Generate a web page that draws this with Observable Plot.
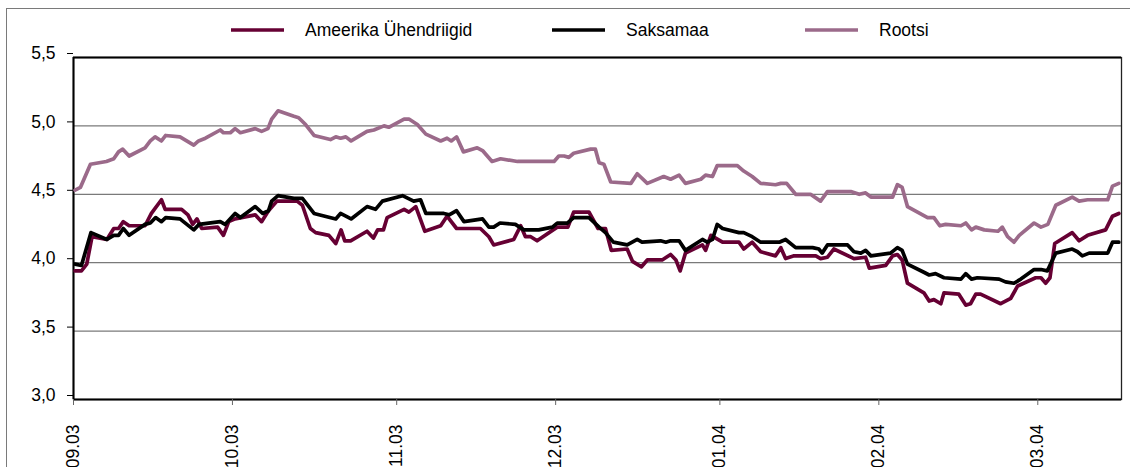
<!DOCTYPE html>
<html><head><meta charset="utf-8">
<script src="https://cdn.jsdelivr.net/npm/d3@7"></script>
<script src="https://cdn.jsdelivr.net/npm/@observablehq/plot@0.6"></script>
<style>
html,body{margin:0;padding:0;background:#fff;}
#wrap{position:relative;width:1130px;height:467px;overflow:hidden;font-family:"Liberation Sans",Arial,sans-serif;}
#border{position:absolute;left:6px;top:8px;width:1300px;height:700px;border:1px solid #7a7a7a;}
#legend{position:relative;height:45px;}
.item{position:absolute;top:8px;height:44px;display:flex;align-items:center;font-size:17.5px;color:#000;white-space:nowrap;}
.item svg{margin-right:21px;display:block}
#chart{position:relative;}
#chart svg{display:block}
</style></head><body>
<div id="wrap"><div id="border"></div><div id="legend"></div><div id="chart"></div></div>
<script>
// x values: days since 1 Sep 2003
const seriesNames = ["Ameerika Ühendriigid", "Saksamaa", "Rootsi"];
const seriesColors = ["#660033", "#000000", "#9b6a8a"];

const usDays = [0.3,1.5,2.5,3.5,6.3,7.6,8.5,9.4,10.5,13.5,14.7,16.6,17.3,20.4,21.6,22.5,23.3,24.2,27.2,28.3,29.3,30.5,34.3,35.5,36.8,38.4,42.2,43.2,44.7,45.7,48.2,49.5,50.5,51.2,52.3,55.4,56.6,57.4,58.5,59.2,62.4,63.3,64.6,66.3,69.3,70.5,72.3,76.8,78.4,79.3,83.1,84.4,85.3,86.3,87.5,91.3,93.3,94.4,97.3,99.0,100.4,101.5,104.5,105.5,107.2,108.3,111.1,112.7,113.7,114.5,115.5,118.7,119.3,120.3,121.2,122.5,125.6,126.5,128.1,129.7,132.5,133.5,134.4,136.0,140.1,141.0,142.3,143.5,147.3,149.5,150.2,153.3,154.6,155.5,156.4,157.4,160.5,161.5,162.4,163.7,164.3,167.1,168.4,169.3,170.3,171.2,175.0,176.9,178.2,181.6,182.6,183.5,184.3,185.2,188.5,189.8,191.4,194.8,196.1,197.3];
const usValues = [3.94,3.94,3.99,4.19,4.17,4.25,4.25,4.30,4.27,4.27,4.36,4.46,4.39,4.39,4.35,4.28,4.32,4.25,4.26,4.20,4.30,4.32,4.35,4.30,4.38,4.45,4.45,4.42,4.25,4.22,4.20,4.14,4.24,4.16,4.16,4.23,4.18,4.24,4.24,4.33,4.39,4.37,4.41,4.23,4.27,4.34,4.25,4.25,4.19,4.13,4.17,4.27,4.19,4.19,4.16,4.26,4.26,4.37,4.37,4.25,4.25,4.09,4.10,4.01,3.97,4.02,4.02,4.06,4.02,3.94,4.07,4.13,4.09,4.20,4.18,4.15,4.15,4.10,4.15,4.08,4.05,4.11,4.03,4.05,4.05,4.03,4.04,4.10,4.03,4.04,3.96,3.98,4.05,4.06,4.02,3.85,3.78,3.72,3.73,3.70,3.78,3.77,3.69,3.70,3.77,3.77,3.70,3.74,3.83,3.89,3.89,3.85,3.89,4.14,4.22,4.16,4.20,4.24,4.34,4.36];

const deDays = [0.3,1.5,3.3,6.3,7.6,8.5,9.4,10.5,13.5,14.5,15.5,16.6,17.4,20.1,21.4,22.7,23.7,27.7,28.6,30.5,31.5,34.3,35.7,36.8,37.4,38.6,41.6,43.2,45.4,49.5,50.4,52.4,55.4,57.0,58.3,62.1,64.2,65.5,66.5,69.9,70.9,72.3,73.7,77.2,78.4,79.3,80.5,83.4,85.0,87.8,90.4,91.3,93.2,94.4,97.3,99.2,100.4,101.9,104.5,106.4,107.3,110.8,111.8,112.7,114.3,115.5,118.7,119.6,120.6,121.5,122.5,125.6,126.5,128.1,129.7,133.2,134.4,136.3,139.5,140.7,141.3,142.3,146.1,147.3,148.6,149.5,150.5,154.2,155.5,156.4,157.4,160.5,161.5,162.7,164.3,167.5,168.4,169.5,170.6,174.7,175.9,177.5,178.8,181.3,182.6,183.8,184.4,185.4,188.5,189.5,190.4,191.7,195.2,196.1,197.3];
const deValues = [3.99,3.98,4.22,4.17,4.20,4.20,4.25,4.20,4.28,4.29,4.33,4.30,4.33,4.32,4.28,4.24,4.28,4.30,4.28,4.36,4.33,4.41,4.36,4.38,4.45,4.49,4.47,4.47,4.36,4.32,4.36,4.32,4.41,4.39,4.45,4.49,4.45,4.46,4.36,4.36,4.35,4.38,4.30,4.32,4.26,4.26,4.29,4.28,4.24,4.24,4.26,4.29,4.29,4.33,4.33,4.26,4.22,4.15,4.13,4.17,4.15,4.16,4.15,4.16,4.16,4.09,4.17,4.15,4.17,4.28,4.25,4.22,4.22,4.19,4.15,4.15,4.17,4.11,4.11,4.10,4.07,4.13,4.13,4.08,4.07,4.09,4.05,4.07,4.11,4.09,3.99,3.93,3.91,3.92,3.89,3.88,3.92,3.88,3.89,3.88,3.86,3.85,3.88,3.95,3.95,3.94,3.99,4.07,4.10,4.08,4.05,4.07,4.07,4.15,4.15];

const seDays = [0.3,1.3,3.2,6.2,7.6,8.5,9.3,10.5,13.5,14.5,15.4,16.6,17.4,20.1,22.7,23.6,24.9,27.7,28.3,29.6,30.5,31.5,34.3,35.5,36.7,37.4,38.6,41.6,42.5,43.8,45.4,48.5,49.5,50.4,51.4,52.4,55.4,56.7,58.6,59.5,62.4,63.3,64.9,66.5,69.3,70.5,71.3,72.3,73.6,76.2,77.2,79.0,80.6,83.8,90.7,91.6,92.6,93.5,94.4,97.6,98.5,99.2,100.1,101.4,105.2,106.4,108.3,111.4,112.7,114.3,115.5,118.4,119.3,120.6,121.5,125.3,126.5,128.1,129.7,132.5,133.5,134.6,136.3,139.1,141.0,142.3,146.7,148.3,149.5,150.5,154.6,155.5,156.4,157.4,161.2,162.4,163.5,164.6,167.5,168.4,169.5,170.3,171.9,174.5,175.3,176.3,177.5,178.5,181.3,182.6,183.9,185.4,188.5,189.8,191.4,195.2,196.1,197.3];
const seValues = [4.53,4.55,4.72,4.74,4.76,4.81,4.83,4.78,4.84,4.89,4.92,4.89,4.93,4.92,4.86,4.89,4.91,4.97,4.95,4.95,4.98,4.95,4.98,4.96,4.98,5.05,5.11,5.07,5.06,5.01,4.93,4.90,4.92,4.91,4.92,4.89,4.96,4.97,5.00,4.99,5.05,5.05,5.01,4.94,4.89,4.91,4.89,4.92,4.81,4.84,4.82,4.74,4.76,4.74,4.74,4.78,4.78,4.77,4.80,4.83,4.83,4.73,4.72,4.59,4.58,4.65,4.58,4.63,4.61,4.64,4.58,4.61,4.64,4.63,4.71,4.71,4.67,4.63,4.58,4.57,4.58,4.58,4.50,4.50,4.45,4.52,4.52,4.50,4.51,4.48,4.48,4.57,4.55,4.41,4.33,4.33,4.27,4.28,4.27,4.29,4.24,4.26,4.24,4.23,4.26,4.19,4.15,4.20,4.29,4.26,4.28,4.42,4.48,4.45,4.46,4.46,4.56,4.58];

const xTickDays = [0, 30, 61, 91, 122, 152, 182];
const xTickLabels = ["09.03", "10.03", "11.03", "12.03", "01.04", "02.04", "03.04"];
const yTicks = [3.0, 3.5, 4.0, 4.5, 5.0, 5.5];
const gridValues = [3.5, 4.0, 4.5, 5.0];

const seriesDays = [usDays, deDays, seDays];
const seriesValues = [usValues, deValues, seValues];
const rows = [];
seriesNames.forEach((name, k) => {
  seriesDays[k].forEach((d, i) => rows.push({series: name, day: d, value: seriesValues[k][i]}));
});

// legend
const legendLeft = [231, 552, 805];
const legend = document.getElementById("legend");
seriesNames.forEach((name, k) => {
  const it = document.createElement("div");
  it.className = "item";
  it.style.left = legendLeft[k] + "px";
  it.innerHTML = `<svg width="53" height="6"><line x1="0" y1="3" x2="53" y2="3" stroke="${seriesColors[k]}" stroke-width="3.6"/></svg><span>${name}</span>`;
  legend.appendChild(it);
});

const chart = Plot.plot({
  width: 1130,
  height: 422,
  marginLeft: 73,
  marginRight: 9,
  marginTop: 12,
  marginBottom: 68,
  style: {fontFamily: "'Liberation Sans', Arial, sans-serif", fontSize: "17.5px", color: "#000", background: "transparent", overflow: "visible"},
  x: {type: "linear", domain: [0, 197.8]},
  y: {domain: [3, 5.5]},
  color: {domain: seriesNames, range: seriesColors},
  marks: [
    Plot.ruleY(gridValues, {stroke: "#7a7a7a", strokeWidth: 1.2}),
    Plot.frame({stroke: "#222", strokeWidth: 1.3}),
    Plot.ruleY([5.5], {stroke: "#000", strokeWidth: 1.8}),
    Plot.ruleY([3], {stroke: "#000", strokeWidth: 2}),
    Plot.ruleX([0], {stroke: "#000", strokeWidth: 2}),
    Plot.axisY({ticks: yTicks, tickFormat: d => d.toFixed(1).replace(".", ","), tickSize: 6, tickPadding: 12, dy: -4, stroke: "#000", label: null}),
    Plot.axisX({ticks: xTickDays, tickFormat: d => xTickLabels[xTickDays.indexOf(d)], tickRotate: -90, tickSize: 6, tickPadding: 19, stroke: "#666", label: null}),
    Plot.line(rows, {x: "day", y: "value", z: "series", stroke: "series", strokeWidth: 3.7, strokeLinejoin: "round"})
  ]
});
document.getElementById("chart").appendChild(chart);
</script>
</body></html>
